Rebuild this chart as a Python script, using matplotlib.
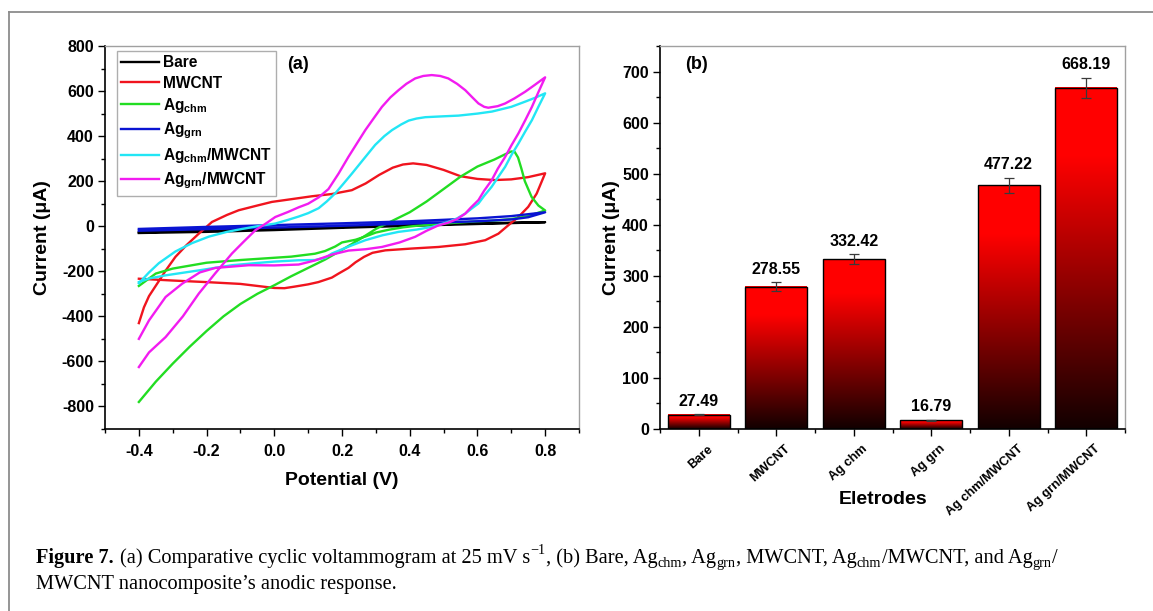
import matplotlib
matplotlib.use('Agg')
import matplotlib.pyplot as plt
import numpy as np
from matplotlib.ticker import MultipleLocator, FixedLocator, FormatStrFormatter
from matplotlib.lines import Line2D
from matplotlib.transforms import ScaledTranslation

plt.rcParams['font.family'] = ['Liberation Sans', 'DejaVu Sans']
plt.rcParams['font.weight'] = 'bold'
plt.rcParams['axes.unicode_minus'] = False
plt.rcParams['mathtext.fontset'] = 'custom'
plt.rcParams['mathtext.bf'] = 'Liberation Sans:bold'
plt.rcParams['mathtext.rm'] = 'Liberation Sans:bold'
plt.rcParams['mathtext.default'] = 'bf'

# ---------------- Panel (a): cyclic voltammograms (E in V, I in uA) ----------------
bare_E = [-0.40, -0.20, 0.00, 0.20, 0.40, 0.60, 0.80, 0.80, 0.60, 0.40, 0.20, 0.00, -0.20, -0.40]
bare_I = [-30, -25, -17, -7, 2, 10, 18, 18, 13, 6, -3, -12, -20, -27]

mwcnt_E = [-0.400, -0.385, -0.370, -0.346, -0.320, -0.292, -0.260, -0.223, -0.184, -0.140,
           -0.105, -0.050, -0.007, 0.050, 0.111, 0.170, 0.229, 0.270, 0.310, 0.350,
           0.380, 0.410, 0.450, 0.500, 0.550, 0.600, 0.650, 0.700, 0.750, 0.800,
           0.775, 0.750, 0.721, 0.691, 0.662, 0.623, 0.564, 0.485, 0.406, 0.328,
           0.290, 0.265, 0.240, 0.219, 0.190, 0.170, 0.130, 0.100, 0.060, 0.030,
           0.000, -0.050, -0.100, -0.200, -0.300, -0.400]
mwcnt_I = [-430, -360, -310, -255, -195, -136, -85, -33, 19, 50,
           71, 92, 108, 120, 133, 143, 160, 190, 228, 260,
           274, 279, 272, 250, 222, 210, 205, 208, 218, 235,
           145, 86, 41, 4, -33, -62, -80, -92, -99, -107,
           -118, -136, -160, -185, -210, -228, -248, -258, -268, -275,
           -274, -265, -256, -248, -241, -233]

agchm_E = [-0.40, -0.35, -0.30, -0.25, -0.20, -0.15, -0.10, -0.05, 0.00, 0.05,
           0.10, 0.15, 0.20, 0.25, 0.30, 0.35, 0.40, 0.45, 0.50, 0.55,
           0.60, 0.65, 0.68, 0.70, 0.71, 0.72, 0.73, 0.74, 0.76, 0.78, 0.80,
           0.75, 0.70, 0.65, 0.60, 0.50, 0.42, 0.38, 0.34, 0.30, 0.27,
           0.24, 0.22, 0.20, 0.18, 0.15, 0.12, 0.05, 0.00, -0.10, -0.20,
           -0.30, -0.35, -0.40]
agchm_I = [-780, -690, -610, -535, -465, -400, -345, -300, -262, -222,
           -185, -148, -105, -60, -12, 25, 62, 110, 165, 220,
           265, 296, 318, 332, 330, 305, 255, 200, 130, 92, 70,
           45, 32, 25, 22, 12, 2, -5, -15, -28, -45,
           -60, -66, -72, -90, -110, -122, -135, -140, -150, -162,
           -188, -210, -265]

aggrn_E = [-0.40, -0.20, 0.00, 0.20, 0.40, 0.60, 0.70, 0.80, 0.75, 0.70, 0.60, 0.40, 0.20, 0.00, -0.20, -0.40]
aggrn_I = [-12, -3, 5, 13, 22, 35, 45, 62, 40, 30, 22, 12, 2, -6, -13, -20]

agchm_mw_E = [-0.400, -0.370, -0.341, -0.292, -0.243, -0.193, -0.140, -0.095, -0.050, 0.003,
              0.040, 0.072, 0.100, 0.131, 0.155, 0.180, 0.205, 0.230, 0.265, 0.298,
              0.325, 0.348, 0.375, 0.397, 0.420, 0.446, 0.500, 0.544, 0.600, 0.643,
              0.700, 0.741, 0.770, 0.800,
              0.780, 0.761, 0.741, 0.721, 0.700, 0.682, 0.662, 0.642, 0.620, 0.603,
              0.580, 0.564, 0.540, 0.514, 0.490, 0.465, 0.420, 0.367, 0.320, 0.269,
              0.220, 0.170, 0.151, 0.120, 0.072, 0.000, -0.050, -0.125, -0.223, -0.321,
              -0.370, -0.400]
agchm_mw_I = [-253, -205, -164, -112, -75, -46, -25, -12, 0, 12,
              28, 43, 58, 80, 110, 146, 190, 235, 300, 361,
              400, 427, 452, 469, 478, 484, 488, 491, 500, 509,
              530, 553, 570, 590,
              530, 471, 420, 367, 315, 264, 220, 175, 135, 101,
              75, 56, 35, 19, 8, -3, -15, -25, -40, -62,
              -90, -121, -140, -150, -151, -157, -163, -173, -196, -218,
              -232, -248]

aggrn_mw_E = [-0.400, -0.370, -0.321, -0.270, -0.223, -0.175, -0.125, -0.090, -0.056, -0.025,
              0.003, 0.040, 0.072, 0.100, 0.131, 0.160, 0.190, 0.219, 0.245, 0.269,
              0.295, 0.318, 0.343, 0.367, 0.390, 0.416, 0.440, 0.465, 0.490, 0.514,
              0.540, 0.564, 0.585, 0.603, 0.620, 0.632, 0.660, 0.682, 0.710, 0.741,
              0.770, 0.800,
              0.780, 0.761, 0.741, 0.721, 0.700, 0.682, 0.660, 0.642, 0.620, 0.603,
              0.580, 0.564, 0.540, 0.514, 0.485, 0.450, 0.416, 0.370, 0.318, 0.270,
              0.219, 0.170, 0.120, 0.072, 0.000, -0.075, -0.174, -0.220, -0.272, -0.321,
              -0.370, -0.400]
aggrn_mw_I = [-625, -560, -492, -400, -299, -210, -121, -68, -18, 12,
              41, 63, 84, 100, 128, 165, 234, 308, 370, 427,
              482, 530, 572, 604, 632, 656, 667, 671, 667, 656,
              632, 604, 572, 545, 530, 526, 533, 545, 568, 597,
              628, 661,
              595, 530, 470, 412, 358, 308, 255, 204, 158, 116,
              82, 56, 32, 16, 4, -20, -47, -72, -92, -102,
              -108, -126, -152, -170, -174, -173, -185, -205, -255, -314,
              -418, -500]

cv_labels = ['Bare', 'MWCNT', r'Ag$_{\mathbf{chm}}$', r'Ag$_{\mathbf{grn}}$',
             r'Ag$_{\mathbf{chm}}$/MWCNT', r'Ag$_{\mathbf{grn}}$/MWCNT']
cv_colors = ['#000000', '#f0141e', '#22dd22', '#0a14d2', '#22e6f5', '#f21cf0']

# ---------------- Panel (b): anodic peak currents ----------------
electrodes = ['Bare', 'MWCNT', 'Ag chm', 'Ag grn', 'Ag chm/MWCNT', 'Ag grn/MWCNT']
currents = [27.49, 278.55, 332.42, 16.79, 477.22, 668.19]
errors = [1.0, 8.5, 10.0, 1.0, 15.0, 20.0]

# ---------------- Figure ----------------
W, H, DPI = 1153, 611, 100
fig = plt.figure(figsize=(W / DPI, H / DPI), dpi=DPI)
fig.patch.set_facecolor('white')


def px_axes(l, t, r, b):
    return fig.add_axes([l / W, 1 - b / H, (r - l) / W, (b - t) / H])


def style(ax):
    for s in ['left', 'bottom']:
        ax.spines[s].set_color('black')
        ax.spines[s].set_linewidth(1.2)
    for s in ['top', 'right']:
        ax.spines[s].set_color('#a0a0a0')
        ax.spines[s].set_linewidth(1.0)
    ax.tick_params(which='both', direction='out', top=False, right=False, width=1.0)
    ax.tick_params(which='major', length=5, labelsize=11.5, pad=3)
    ax.tick_params(which='minor', length=3)


axa = px_axes(105, 46, 579, 429)
axb = px_axes(660, 46, 1125, 429)

series = [(bare_E, bare_I), (mwcnt_E, mwcnt_I), (agchm_E, agchm_I), (aggrn_E, aggrn_I),
          (agchm_mw_E, agchm_mw_I), (aggrn_mw_E, aggrn_mw_I)]
for (E, I), c, lab in zip(series, cv_colors, cv_labels):
    axa.plot(E, I, color=c, lw=1.7, label=lab, solid_joinstyle='round')

axa.set_xlim(-0.5, 0.9)
axa.set_ylim(-900, 800)
axa.xaxis.set_major_locator(MultipleLocator(0.2))
axa.xaxis.set_minor_locator(MultipleLocator(0.1))
axa.xaxis.set_major_formatter(FormatStrFormatter('%.1f'))
axa.yaxis.set_major_locator(MultipleLocator(200))
axa.yaxis.set_minor_locator(MultipleLocator(100))
style(axa)
axa.tick_params(axis='x', which='major', pad=6)
axa.set_xlabel('Potential (V)', fontsize=14, fontweight='bold')
axa.xaxis.set_label_coords(0.5, -0.113)
axa.set_ylabel('Current (\u03bcA)', fontsize=14, fontweight='bold')
axa.yaxis.set_label_coords(-0.113, 0.5)
axa.text(0.384, 0.953, '(a)', transform=axa.transAxes, fontsize=13, fontweight='bold',
         ha='left', va='center')
leg = axa.legend(loc='upper left', bbox_to_anchor=(0.0247, 0.988), borderaxespad=0,
                 prop={'weight': 'bold', 'size': 11.2}, handlelength=2.4, handletextpad=0.25,
                 labelspacing=0.34, borderpad=0.3, frameon=True, fancybox=False)
leg.get_frame().set_edgecolor('#9a9a9a')
leg.get_frame().set_linewidth(1.0)

# Panel (b) gradient bars
x = np.arange(1, len(electrodes) + 1)
bar_w = 0.8
t = np.linspace(0, 1, 256)
red = 0.07 + 0.93 * np.clip(t / 0.8, 0, 1)
grad = np.zeros((256, 1, 3))
grad[:, 0, 0] = red
for xi, h in zip(x, currents):
    axb.imshow(grad, extent=[xi - bar_w / 2, xi + bar_w / 2, 0, h], origin='lower',
               aspect='auto', interpolation='bilinear', zorder=1)
axb.bar(x, currents, width=bar_w, fill=False, edgecolor='black', linewidth=1.0, zorder=2)
axb.errorbar(x, currents, yerr=errors, fmt='none', ecolor='#3a3a3a', elinewidth=0.9,
             capsize=3.5, capthick=0.9, zorder=3)
for xi, h, e in zip(x, currents, errors):
    axb.annotate(f'{h:.2f}', (xi, h + e), xytext=(0, 4), textcoords='offset points',
                 ha='center', va='bottom', fontsize=11.5, fontweight='bold')
axb.set_xlim(0.5, 6.5)
axb.set_ylim(0, 750)
axb.set_xticks(x)
axb.set_xticklabels(electrodes, rotation=42, ha='right', rotation_mode='anchor')
axb.xaxis.set_minor_locator(FixedLocator(np.arange(0.5, 7.0, 1.0)))
axb.yaxis.set_major_locator(MultipleLocator(100))
axb.yaxis.set_minor_locator(MultipleLocator(50))
style(axb)
axb.tick_params(axis='x', which='major', labelsize=9.2, pad=5)
shift = ScaledTranslation(6 / 72, 0, fig.dpi_scale_trans)
for lbl in axb.get_xticklabels():
    lbl.set_transform(lbl.get_transform() + shift)
axb.set_xlabel('Eletrodes', fontsize=14, fontweight='bold')
axb.xaxis.set_label_coords(0.48, -0.163)
axb.set_ylabel('Current (\u03bcA)', fontsize=14, fontweight='bold')
axb.yaxis.set_label_coords(-0.087, 0.5)
axb.text(0.054, 0.953, '(b)', transform=axb.transAxes, fontsize=13, fontweight='bold',
         ha='left', va='center')

# Frame lines around figure block
fig.add_artist(Line2D([8.5 / W, 8.5 / W], [0, 1 - 11.5 / H], transform=fig.transFigure,
                      color='#8c8c8c', lw=1.3))
fig.add_artist(Line2D([8.5 / W, 1.0], [1 - 11.5 / H, 1 - 11.5 / H], transform=fig.transFigure,
                      color='#8c8c8c', lw=1.3))

# Caption with sub/superscripts
SERIF = ['Liberation Serif', 'DejaVu Serif']
cap1 = [('Figure 7.', 'bold'), (' ', 'gap'),
        ('(a) Comparative cyclic voltammogram at 25 mV s', 'n'), ('\u22121', 'sup'),
        (', (b) Bare, Ag', 'n'), ('chm', 'sub'), (', Ag', 'n'), ('grn', 'sub'),
        (', MWCNT, Ag', 'n'), ('chm', 'sub'), ('/MWCNT, and Ag', 'n'), ('grn', 'sub'), ('/', 'n')]
cap2 = [('MWCNT nanocomposite\u2019s anodic response.', 'n')]


def draw_frags(x_px, base_px, frags, size):
    r = fig.canvas.get_renderer()
    xx = x_px
    arts = []
    for s, kind in frags:
        if kind == 'gap':
            xx += 0.28 * size * DPI / 72
            continue
        fs = size * 0.7 if kind in ('sub', 'sup') else size
        dy = {'sub': -0.2 * size, 'sup': 0.45 * size}.get(kind, 0) * DPI / 72
        tx = fig.text(xx / W, 1 - (base_px - dy) / H, s, fontsize=fs, family=SERIF,
                      fontweight='bold' if kind == 'bold' else 'normal',
                      ha='left', va='baseline')
        arts.append(tx)
        bb = tx.get_window_extent(r)
        xx = bb.x1 + 0.3
    return xx, arts


x_start, x_end = 36, 1063
trial = 14.0
xe, arts = draw_frags(x_start, 563, cap1, trial)
for a in arts:
    a.remove()
cap_size = trial * (x_end - x_start) / (xe - x_start)
draw_frags(x_start, 563, cap1, cap_size)
draw_frags(x_start, 589, cap2, cap_size)

fig.savefig('out.png', dpi=DPI, facecolor='white')
